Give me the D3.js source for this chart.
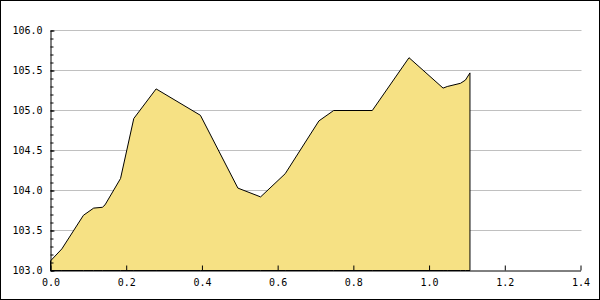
<!DOCTYPE html>
<html>
<head>
<meta charset="utf-8">
<script src="https://cdn.jsdelivr.net/npm/d3@7"></script>
<style>
  body { margin: 0; background: #fff; }
  svg text { font-family: "DejaVu Sans Mono", monospace; font-size: 10px; fill: #000; }
</style>
</head>
<body>
<script>
// values
var xValues = [0, 0.03, 0.087, 0.114, 0.137, 0.144, 0.185, 0.22, 0.279, 0.396, 0.495,
               0.555, 0.62, 0.709, 0.748, 0.85, 0.947, 1.037, 1.048, 1.083, 1.096, 1.108];
var yValues = [103.12, 103.27, 103.69, 103.78, 103.79, 103.82, 104.15, 104.9, 105.27, 104.94, 104.03,
               103.92, 104.21, 104.87, 105.0, 105.0, 105.66, 105.28, 105.3, 105.34, 105.38, 105.47];
var xTicks = [0, 0.2, 0.4, 0.6, 0.8, 1.0, 1.2, 1.4];
var yTicks = [103.0, 103.5, 104.0, 104.5, 105.0, 105.5, 106.0];
var yMinorTicks = d3.range(1030, 1061).map(function(d) { return d / 10; });

var width = 600, height = 300;
var plotLeft = 50, plotRight = 580, plotTop = 30, plotBottom = 270;

var svg = d3.select("body").append("svg")
    .attr("width", width)
    .attr("height", height);

// outer frame
svg.append("rect")
    .attr("x", 0.5).attr("y", 0.5)
    .attr("width", width - 1).attr("height", height - 1)
    .attr("fill", "#fff")
    .attr("stroke", "#000");

var x = d3.scaleLinear().domain([0, 1.4]).range([plotLeft, plotRight]);
var y = d3.scaleLinear().domain([103, 106]).range([plotBottom, plotTop]);

var g = svg.append("g").attr("transform", "translate(0.5,0.5)");

// horizontal grid
g.selectAll("line.grid")
    .data(yTicks.slice(1))
    .enter().append("line")
    .attr("class", "grid")
    .attr("x1", plotLeft).attr("x2", plotRight + 1)
    .attr("y1", function(d) { return y(d); })
    .attr("y2", function(d) { return y(d); })
    .attr("stroke", "#c0c0c0");

var pts = xValues.map(function(d, i) { return [d, yValues[i]]; });

var area = d3.area()
    .x(function(d) { return x(d[0]); })
    .y0(y(103))
    .y1(function(d) { return y(d[1]); });

g.append("path")
    .datum(pts)
    .attr("d", area)
    .attr("fill", "#f6e184")
    .attr("stroke", "#000")
    .attr("stroke-width", 1);

// y axis, minor ticks then major ticks with labels
g.append("g")
    .attr("transform", "translate(" + plotLeft + ",0)")
    .call(d3.axisLeft(y).tickValues(yMinorTicks).tickSize(-3).tickSizeOuter(0).tickFormat(""))
    .call(function(a) { a.selectAll("line").attr("stroke", "#000"); a.select(".domain").remove(); });

g.append("g")
    .attr("transform", "translate(" + plotLeft + ",0)")
    .call(d3.axisLeft(y).tickValues(yTicks).tickSize(-4).tickSizeOuter(0).tickPadding(8).tickFormat(d3.format(".1f")))
    .call(function(a) {
        a.attr("font-family", null).attr("font-size", null);
        a.selectAll("line").attr("stroke", "#000");
        a.select(".domain").attr("stroke", "#000");
    });

// x axis
g.append("g")
    .attr("transform", "translate(0," + plotBottom + ")")
    .call(d3.axisBottom(x).tickValues(xTicks).tickSize(-5).tickSizeOuter(0).tickPadding(8).tickFormat(d3.format(".1f")))
    .call(function(a) {
        a.attr("font-family", null).attr("font-size", null);
        a.selectAll("line").attr("stroke", "#000");
        a.select(".domain").attr("stroke", "#000");
    });
</script>
</body>
</html>
